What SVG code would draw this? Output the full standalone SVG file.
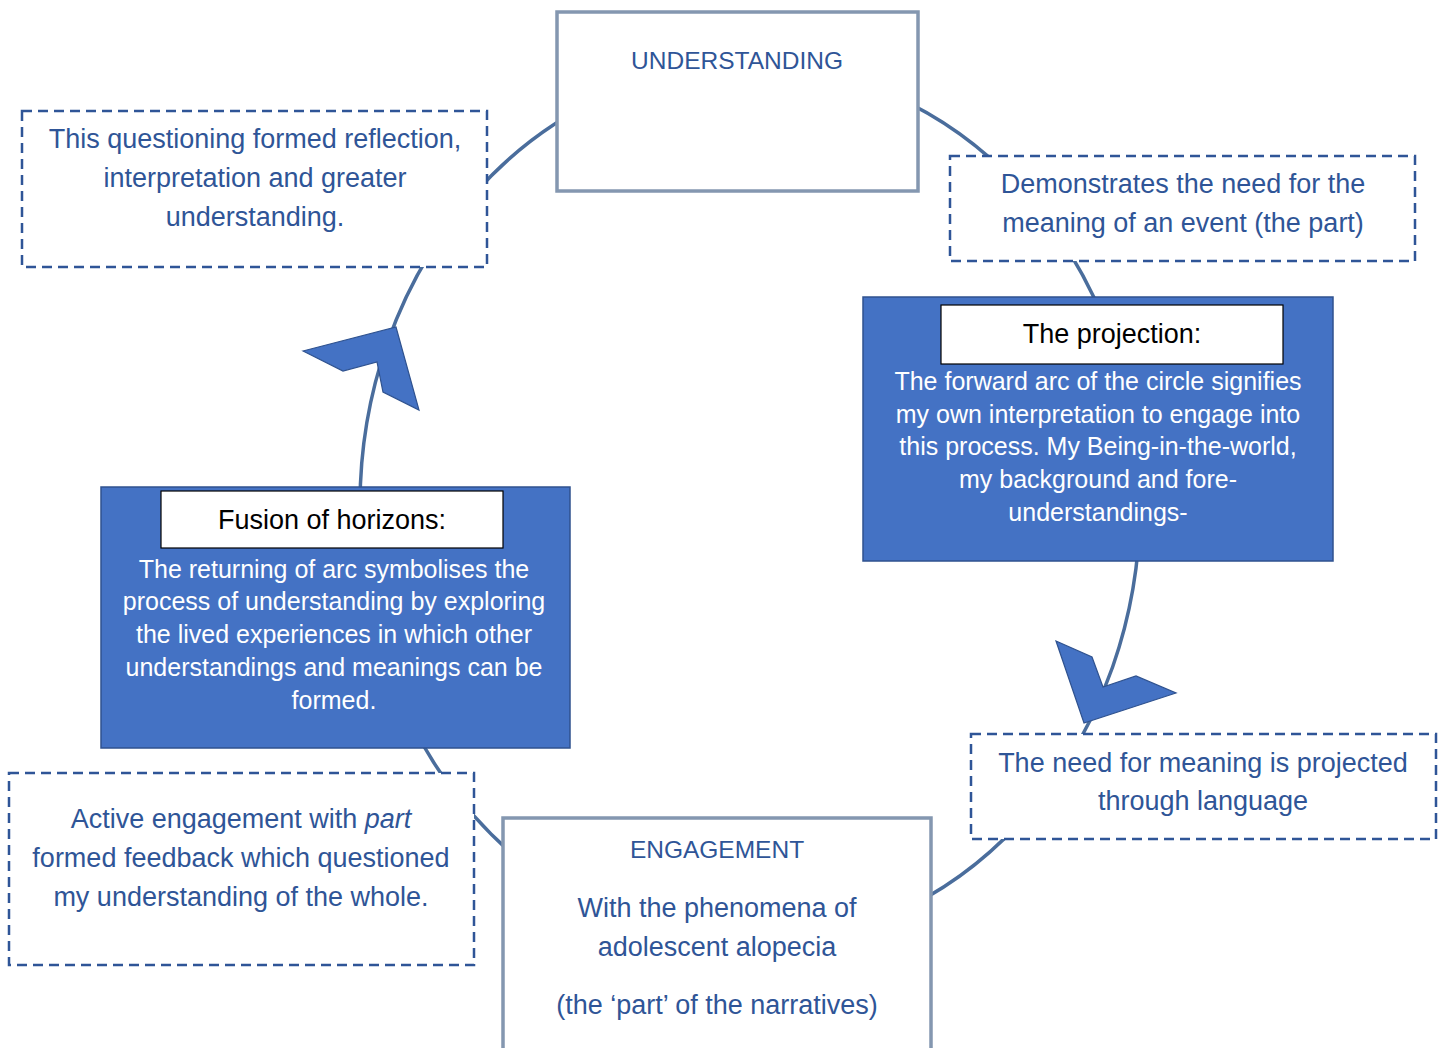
<svg xmlns="http://www.w3.org/2000/svg" width="1445" height="1048" viewBox="0 0 1445 1048">
<style>
text{font-family:"Liberation Sans",Arial,sans-serif;text-anchor:middle}
.t{fill:#2f5597;font-size:27px}
.cap{fill:#2f5597;font-size:24.5px}
.w{fill:#ffffff;font-size:25px}
.k{fill:#000000;font-size:27px}
.dash{fill:#ffffff;stroke:#2f5597;stroke-width:2.5;stroke-dasharray:10 6}
.gray{fill:#ffffff;stroke:#8497b0;stroke-width:3.5}
.blue{fill:#4472c4;stroke:#2f528f;stroke-width:1.5}
.lbl{fill:#ffffff;stroke:#000000;stroke-width:1.2}
.arc{fill:none;stroke:#4a6d9c;stroke-width:3.5}
.head{fill:#4472c4;stroke:#2f528f;stroke-width:1.2;stroke-linejoin:miter}
</style>
<rect width="1445" height="1048" fill="#ffffff"/>
<g id="connectors">
<ellipse class="arc" cx="750" cy="505" rx="390" ry="440"/>
<polygon class="head" points="303,351 396,327 419,410 383,392 377,362 343,371"/>
<polygon class="head" points="1056,641 1092,657 1103,687 1136,676 1176,693 1084,723"/>
</g>
<g id="understanding">
<rect class="gray" x="557" y="12" width="361" height="179"/>
<text class="cap" x="737" y="69">UNDERSTANDING</text>
</g>
<g id="questioning">
<rect class="dash" x="22" y="111" width="465" height="156"/>
<text class="t" x="255" y="148">This questioning formed reflection,</text>
<text class="t" x="255" y="187">interpretation and greater</text>
<text class="t" x="255" y="226">understanding.</text>
</g>
<g id="demonstrates">
<rect class="dash" x="950" y="156" width="465" height="105"/>
<text class="t" x="1183" y="193">Demonstrates the need for the</text>
<text class="t" x="1183" y="232">meaning of an event (the part)</text>
</g>
<g id="projection">
<rect class="blue" x="863" y="297" width="470" height="264"/>
<rect class="lbl" x="941" y="305" width="342" height="59"/>
<text class="k" x="1112" y="343">The projection:</text>
<text class="w" x="1098" y="390">The forward arc of the circle signifies</text>
<text class="w" x="1098" y="423">my own interpretation to engage into</text>
<text class="w" x="1098" y="455">this process. My Being-in-the-world,</text>
<text class="w" x="1098" y="488">my background and fore-</text>
<text class="w" x="1098" y="521">understandings-</text>
</g>
<g id="fusion">
<rect class="blue" x="101" y="487" width="469" height="261"/>
<rect class="lbl" x="161" y="491" width="342" height="57"/>
<text class="k" x="332" y="529">Fusion of horizons:</text>
<text class="w" x="334" y="578">The returning of arc symbolises the</text>
<text class="w" x="334" y="610">process of understanding by exploring</text>
<text class="w" x="334" y="643">the lived experiences in which other</text>
<text class="w" x="334" y="676">understandings and meanings can be</text>
<text class="w" x="334" y="709">formed.</text>
</g>
<g id="projected">
<rect class="dash" x="971" y="734" width="465" height="105"/>
<text class="t" x="1203" y="772">The need for meaning is projected</text>
<text class="t" x="1203" y="810">through language</text>
</g>
<g id="active">
<rect class="dash" x="9" y="773" width="465" height="192"/>
<text class="t" x="241" y="828">Active engagement with <tspan font-style="italic">part</tspan></text>
<text class="t" x="241" y="867">formed feedback which questioned</text>
<text class="t" x="241" y="906">my understanding of the whole.</text>
</g>
<g id="engagement">
<rect class="gray" x="503" y="818" width="428" height="250"/>
<text class="cap" x="717" y="858">ENGAGEMENT</text>
<text class="t" x="717" y="917">With the phenomena of</text>
<text class="t" x="717" y="956">adolescent alopecia</text>
<text class="t" x="717" y="1014">(the ‘part’ of the narratives)</text>
</g>
</svg>
